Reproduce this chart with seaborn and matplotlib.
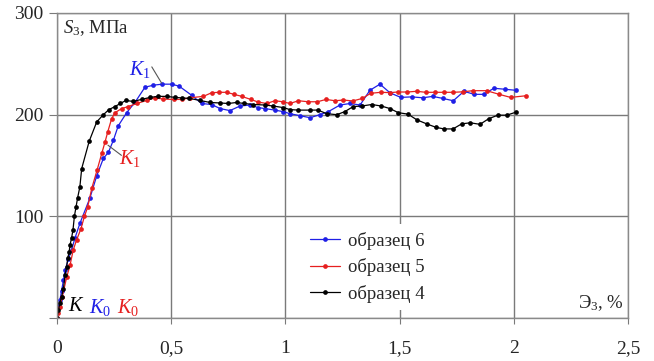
import numpy as np
import pandas as pd
import matplotlib
matplotlib.use("Agg")
import matplotlib.pyplot as plt
import seaborn as sns

# ---- data ----
x6 = [0, 0.006, 0.013, 0.02, 0.028, 0.035, 0.05, 0.064, 0.079, 0.1, 0.144, 0.174, 0.203,
      0.225, 0.247, 0.268, 0.305, 0.341, 0.385, 0.422, 0.46, 0.502, 0.535, 0.59, 0.633,
      0.677, 0.714, 0.757, 0.801, 0.845, 0.88, 0.91, 0.954, 0.99, 1.02, 1.064, 1.108,
      1.151, 1.188, 1.239, 1.283, 1.327, 1.37, 1.414, 1.458, 1.505, 1.553, 1.601, 1.645,
      1.689, 1.735, 1.782, 1.826, 1.868, 1.913, 1.961, 2.008]
y6 = [0, 11, 18, 27, 37, 47, 58, 67, 79, 93, 118, 140, 157,
      163, 175, 189, 202, 212, 227, 229, 230, 230, 228, 219, 211,
      210, 206, 204, 208.5, 209.5, 207, 206, 204.5, 203, 201, 199, 197,
      200, 203, 209.5, 211, 209.5, 224, 230, 221.5, 217, 217.5, 216.6, 218,
      216, 213.7, 223, 220, 220, 226, 225, 224]

x5 = [0, 0.006, 0.013, 0.023, 0.042, 0.057, 0.071, 0.086, 0.105, 0.12, 0.134, 0.152, 0.176,
      0.196, 0.21, 0.222, 0.239, 0.254, 0.283, 0.312, 0.349, 0.393, 0.429, 0.465, 0.51,
      0.547, 0.582, 0.641, 0.677, 0.711, 0.743, 0.775, 0.809, 0.848, 0.881, 0.918, 0.954,
      0.988, 1.02, 1.057, 1.1, 1.14, 1.178, 1.217, 1.254, 1.295, 1.337, 1.373, 1.417,
      1.458, 1.494, 1.534, 1.575, 1.614, 1.655, 1.694, 1.735, 1.779, 1.82, 1.881, 1.936,
      1.986, 2.053]
y5 = [0, 5, 11, 21, 40, 52, 67, 77, 88, 100, 109, 127.5, 146,
      162, 173, 183, 196, 202, 206, 208, 211, 214, 216.6, 215.3, 215,
      215, 216.6, 218, 221.6, 222, 222, 220, 218, 215, 212.4, 211, 213.7,
      212.7, 211, 213.7, 212.7, 212.7, 215, 213.7, 214.4, 213.5, 216, 221, 222,
      221.7, 222.3, 222.3, 223, 222, 222, 222, 222, 222.5, 223.6, 223.6, 220,
      217, 218.6]

x4 = [0, 0.006, 0.013, 0.02, 0.028, 0.035, 0.042, 0.047, 0.053, 0.057, 0.064, 0.07, 0.076,
      0.083, 0.09, 0.1, 0.108, 0.141, 0.174, 0.203, 0.227, 0.254, 0.277, 0.302, 0.333,
      0.37, 0.407, 0.444, 0.48, 0.516, 0.546, 0.58, 0.626, 0.67, 0.714, 0.75, 0.786, 0.82,
      0.859, 0.91, 0.946, 0.99, 1.02, 1.056, 1.108, 1.143, 1.18, 1.225, 1.26, 1.297,
      1.334, 1.378, 1.42, 1.458, 1.494, 1.537, 1.575, 1.618, 1.66, 1.694, 1.734, 1.772,
      1.81, 1.852, 1.89, 1.93, 1.969, 2.01]
y4 = [0, 8, 15, 21, 29, 42, 50, 59, 65, 72, 79, 87, 100,
      109, 118, 129, 147, 174, 193, 200, 205, 208, 211, 214, 213,
      215, 217, 218, 218, 217, 216.5, 216, 214, 212, 211.5, 211, 212, 211,
      210, 209.5, 208.5, 207, 205, 204.5, 204.5, 204.5, 201, 200, 203, 208,
      208.5, 210, 208.5, 206, 202, 200.5, 195, 191, 187.5, 186, 186, 191,
      192, 190.5, 196, 199.5, 199.5, 202.5]

series_names = ["образец 6", "образец 5", "образец 4"]
colors = ["#1f1fe6", "#e61f1f", "#000000"]
x_ticks = [0, 0.5, 1, 1.5, 2, 2.5]
x_tick_labels = ["0", "0,5", "1", "1,5", "2", "2,5"]
y_ticks = [0, 100, 200, 300]
y_tick_labels = ["", "100", "200", "300"]

df = pd.concat([
    pd.DataFrame({"x": x6, "y": y6, "series": series_names[0]}),
    pd.DataFrame({"x": x5, "y": y5, "series": series_names[1]}),
    pd.DataFrame({"x": x4, "y": y4, "series": series_names[2]}),
], ignore_index=True)

sns.set_style("white")
plt.rcParams["font.family"] = ["Liberation Serif", "DejaVu Serif"]
plt.rcParams["mathtext.fontset"] = "custom"
plt.rcParams["mathtext.rm"] = "Liberation Serif"
plt.rcParams["mathtext.it"] = "Liberation Serif:italic"

fig = plt.figure(figsize=(6.54, 3.61), dpi=100)
ax = fig.add_axes([0.0872, 0.119, 0.873, 0.845])

sns.lineplot(data=df, x="x", y="y", hue="series", hue_order=series_names,
             palette=colors, estimator=None, sort=False, marker="o",
             markersize=3.4, markeredgewidth=0, linewidth=0.9, ax=ax)

ax.set_xlim(0, 2.5)
ax.set_ylim(0, 300)
ax.set_xticks(x_ticks)
ax.set_xticklabels(x_tick_labels)
ax.set_yticks(y_ticks)
ax.set_yticklabels(y_tick_labels)
ax.set_xlabel("")
ax.set_ylabel("")
ax.grid(True, color="#7a7a7a", linewidth=1.0)
ax.set_axisbelow(True)
for s in ax.spines.values():
    s.set_color("#8a8a8a")
    s.set_linewidth(1.0)
ax.tick_params(axis="x", length=4, pad=12, labelsize=14, color="#7a7a7a", direction="out", bottom=True)
ax.tick_params(axis="y", length=6, pad=4, labelsize=14, color="#7a7a7a", direction="out", left=True)

leg = ax.legend(loc="center left", bbox_to_anchor=(0.43, 0.167), frameon=True,
                fontsize=13.5, handlelength=1.6, labelspacing=0.45, handletextpad=0.4,
                borderpad=0.4, borderaxespad=0)
leg.get_frame().set_edgecolor("none")
leg.get_frame().set_facecolor("white")
leg.get_frame().set_alpha(1)

ax.text(0.0105, 0.951, "$S_3$, МПа", transform=ax.transAxes, ha="left", va="center", fontsize=13.5)
ax.text(0.993, 0.049, "Э$_3$, %", transform=ax.transAxes, ha="right", va="center", fontsize=13.5)

ax.text(0.363, 244, "$K_1$", color=colors[0], ha="center", va="center", fontsize=14.5)
ax.plot([0.415, 0.458], [247, 231], color="#555555", linewidth=0.8)
ax.text(0.318, 157, "$K_1$", color=colors[1], ha="center", va="center", fontsize=14.5)
ax.plot([0.223, 0.282], [170, 160], color="#555555", linewidth=0.8)

ax.text(0.083, 11, "$K$", color="black", ha="center", va="center", fontsize=14.5)
ax.text(0.19, 10, "$K_0$", color=colors[0], ha="center", va="center", fontsize=14.5)
ax.text(0.313, 10, "$K_0$", color=colors[1], ha="center", va="center", fontsize=14.5)

fig.savefig("out.png", dpi=100)
